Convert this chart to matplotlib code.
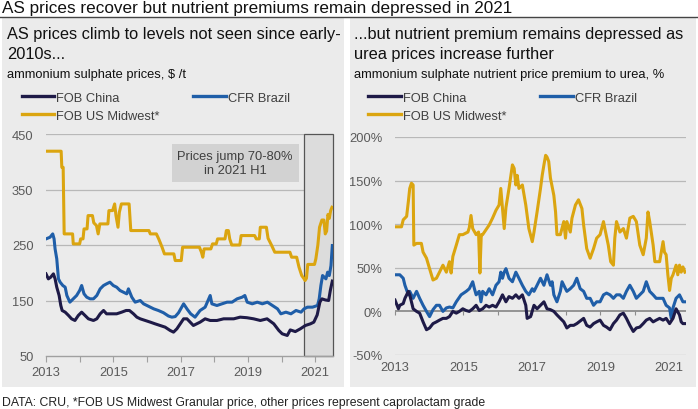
import matplotlib
matplotlib.use("Agg")
import matplotlib.pyplot as plt
from matplotlib.patches import Rectangle
from matplotlib.lines import Line2D
from matplotlib.ticker import FixedLocator, FuncFormatter

plt.rcParams['font.family'] = ['Liberation Sans', 'DejaVu Sans']

# ---------------- DATA ----------------
# Left: ammonium sulphate prices, $/t
us_price_t = [2013.00, 2013.45, 2013.47, 2013.51, 2013.54, 2013.79, 2013.81, 2014.00, 2014.03, 2014.10,
              2014.13, 2014.22, 2014.25, 2014.38, 2014.42, 2014.50, 2014.55, 2014.60, 2014.84, 2014.87,
              2014.98, 2015.04, 2015.08, 2015.14, 2015.18, 2015.24, 2015.47, 2015.52, 2016.06, 2016.10,
              2016.28, 2016.35, 2016.45, 2016.52, 2016.80, 2016.84, 2017.02, 2017.06, 2017.56, 2017.62,
              2017.66, 2017.70, 2017.90, 2017.95, 2018.06, 2018.10, 2018.32, 2018.36, 2018.42, 2018.46,
              2018.52, 2018.76, 2018.80, 2019.20, 2019.25, 2019.34, 2019.37, 2019.55, 2019.60, 2019.70,
              2019.80, 2020.25, 2020.30, 2020.45, 2020.52, 2020.60, 2020.66, 2020.70, 2020.74, 2020.78,
              2020.98, 2021.02, 2021.08, 2021.13, 2021.20, 2021.26, 2021.30, 2021.34, 2021.38, 2021.42,
              2021.46, 2021.50]
us_price_v = [419, 419, 390, 390, 270, 270, 252, 252, 261, 261,
              279, 279, 303, 303, 290, 285, 270, 288, 288, 312,
              312, 324, 303, 282, 309, 324, 324, 276, 276, 270,
              270, 261, 246, 234, 234, 222, 222, 246, 246, 237,
              228, 243, 243, 252, 252, 261, 261, 276, 276, 261,
              250, 250, 267, 267, 261, 261, 282, 282, 262, 250,
              237, 237, 228, 228, 210, 195, 190, 186, 190, 215,
              215, 225, 250, 282, 295, 295, 270, 275, 305, 298,
              312, 318]

br_price_t = [2013.00, 2013.12, 2013.20, 2013.24, 2013.27, 2013.32, 2013.37, 2013.42, 2013.50, 2013.57,
              2013.62, 2013.71, 2013.81, 2013.91, 2014.00, 2014.06, 2014.13, 2014.21, 2014.31, 2014.41,
              2014.51, 2014.61, 2014.71, 2014.80, 2014.90, 2015.00, 2015.10, 2015.20, 2015.30, 2015.40,
              2015.45, 2015.55, 2015.65, 2015.80, 2015.90, 2016.00, 2016.10, 2016.20, 2016.34, 2016.49,
              2016.64, 2016.74, 2016.84, 2016.94, 2017.09, 2017.20, 2017.30, 2017.43, 2017.58, 2017.73,
              2017.88, 2017.93, 2018.08, 2018.23, 2018.38, 2018.53, 2018.68, 2018.83, 2018.91, 2018.98,
              2019.13, 2019.28, 2019.43, 2019.58, 2019.73, 2019.88, 2019.98, 2020.13, 2020.28, 2020.43,
              2020.58, 2020.67, 2020.77, 2020.92, 2021.07, 2021.12, 2021.17, 2021.22, 2021.32, 2021.37,
              2021.42, 2021.47, 2021.51]
br_price_v = [261, 264, 270, 261, 243, 225, 189, 183, 177, 174,
              159, 147, 153, 159, 168, 177, 162, 156, 153, 153,
              159, 171, 177, 180, 183, 177, 174, 168, 165, 162,
              171, 156, 147, 150, 144, 141, 138, 135, 132, 128,
              122, 120, 121, 128, 144, 134, 126, 120, 132, 138,
              159, 144, 141, 144, 147, 147, 153, 156, 159, 147,
              144, 147, 144, 147, 141, 135, 126, 129, 126, 132,
              129, 135, 138, 138, 141, 153, 177, 195, 189, 201,
              195, 213, 249]

cn_price_t = [2013.00, 2013.07, 2013.14, 2013.22, 2013.27, 2013.32, 2013.39, 2013.44, 2013.48, 2013.57,
              2013.67, 2013.76, 2013.86, 2013.96, 2014.06, 2014.16, 2014.26, 2014.41, 2014.51, 2014.61,
              2014.71, 2014.80, 2014.95, 2015.10, 2015.25, 2015.38, 2015.48, 2015.60, 2015.70, 2015.80,
              2015.95, 2016.10, 2016.24, 2016.39, 2016.54, 2016.69, 2016.79, 2016.89, 2016.99, 2017.09,
              2017.19, 2017.38, 2017.58, 2017.73, 2017.88, 2018.08, 2018.28, 2018.58, 2018.77, 2018.97,
              2019.17, 2019.37, 2019.57, 2019.77, 2019.92, 2020.02, 2020.17, 2020.26, 2020.41, 2020.56,
              2020.71, 2020.86, 2020.96, 2021.06, 2021.14, 2021.20, 2021.30, 2021.40, 2021.45, 2021.51]
cn_price_v = [198, 189, 192, 198, 189, 174, 159, 141, 132, 129,
              123, 117, 114, 123, 129, 123, 117, 114, 117, 126,
              132, 126, 126, 126, 129, 132, 132, 126, 120, 117,
              114, 111, 108, 105, 102, 96, 93, 99, 108, 117,
              117, 105, 111, 117, 114, 114, 117, 117, 120, 119,
              117, 114, 117, 108, 96, 90, 87, 97, 94, 99,
              105, 108, 111, 124, 147, 153, 151, 150, 168, 185]

# Right: nutrient price premium to urea, %
us_prem_t = [2013.00, 2013.19, 2013.24, 2013.34, 2013.39, 2013.43, 2013.48, 2013.53, 2013.55, 2013.63,
             2013.77, 2013.82, 2013.92, 2014.01, 2014.11, 2014.21, 2014.30, 2014.40, 2014.50, 2014.59,
             2014.64, 2014.69, 2014.79, 2014.88, 2014.98, 2015.13, 2015.17, 2015.22, 2015.27, 2015.37,
             2015.44, 2015.48, 2015.52, 2015.56, 2015.75, 2015.85, 2015.95, 2016.04, 2016.09, 2016.14,
             2016.19, 2016.24, 2016.33, 2016.43, 2016.48, 2016.53, 2016.57, 2016.62, 2016.72, 2016.82,
             2016.91, 2017.01, 2017.06, 2017.15, 2017.25, 2017.30, 2017.35, 2017.40, 2017.44, 2017.49,
             2017.54, 2017.64, 2017.69, 2017.73, 2017.83, 2017.93, 2017.98, 2018.02, 2018.12, 2018.17,
             2018.27, 2018.36, 2018.46, 2018.51, 2018.60, 2018.70, 2018.80, 2018.89, 2018.99, 2019.09,
             2019.13, 2019.23, 2019.30, 2019.38, 2019.42, 2019.47, 2019.57, 2019.67, 2019.76, 2019.86,
             2019.96, 2020.05, 2020.15, 2020.25, 2020.34, 2020.39, 2020.44, 2020.54, 2020.59, 2020.73,
             2020.83, 2020.87, 2020.92, 2020.97, 2021.02, 2021.07, 2021.12, 2021.21, 2021.26, 2021.31,
             2021.36, 2021.41, 2021.47]
us_prem_v = [97, 97, 105, 109, 126, 141, 147, 145, 76, 78,
             78, 68, 61, 49, 36, 38, 45, 53, 45, 57,
             44, 63, 76, 88, 88, 91, 96, 110, 95, 88,
             91, 44, 88, 88, 99, 107, 116, 122, 141, 118,
             95, 119, 141, 168, 164, 145, 156, 141, 145, 122,
             95, 80, 91, 114, 141, 156, 168, 179, 177, 172,
             153, 133, 114, 88, 88, 103, 84, 103, 91, 107,
             122, 128, 118, 99, 72, 61, 72, 84, 88, 103,
             95, 76, 57, 53, 84, 103, 91, 95, 84, 107,
             109, 103, 76, 65, 84, 114, 103, 76, 57, 57,
             80, 68, 65, 42, 24, 38, 42, 53, 42, 53,
             45, 51, 45]

br_prem_t = [2013.00, 2013.14, 2013.24, 2013.29, 2013.39, 2013.43, 2013.53, 2013.58, 2013.63, 2013.72,
             2013.82, 2013.92, 2014.01, 2014.11, 2014.21, 2014.30, 2014.40, 2014.50, 2014.59, 2014.69,
             2014.79, 2014.93, 2015.08, 2015.17, 2015.27, 2015.32, 2015.37, 2015.46, 2015.51, 2015.56,
             2015.66, 2015.75, 2015.85, 2015.95, 2016.04, 2016.09, 2016.14, 2016.19, 2016.24, 2016.33,
             2016.43, 2016.53, 2016.62, 2016.72, 2016.82, 2016.91, 2017.01, 2017.06, 2017.15, 2017.25,
             2017.35, 2017.44, 2017.54, 2017.59, 2017.64, 2017.73, 2017.83, 2017.88, 2017.98, 2018.02,
             2018.12, 2018.22, 2018.31, 2018.41, 2018.51, 2018.60, 2018.70, 2018.80, 2018.89, 2018.99,
             2019.09, 2019.18, 2019.28, 2019.38, 2019.47, 2019.57, 2019.67, 2019.76, 2019.86, 2019.96,
             2020.05, 2020.15, 2020.25, 2020.34, 2020.44, 2020.54, 2020.63, 2020.73, 2020.83, 2020.92,
             2021.02, 2021.07, 2021.12, 2021.21, 2021.31, 2021.41, 2021.47]
br_prem_v = [42, 42, 38, 30, 19, 23, 15, 19, 23, 15,
             7, 0, -6, 2, 7, 7, 0, 4, 5, 4,
             11, 19, 23, 26, 34, 26, 19, 23, 11, 23,
             19, 26, 19, 30, 34, 45, 38, 45, 49, 38,
             34, 45, 38, 30, 23, 19, 26, 23, 30, 38,
             30, 42, 30, 34, 19, 11, 23, 34, 26, 23,
             26, 30, 38, 26, 23, 15, 15, 7, 11, 11,
             19, 21, 19, 15, 19, 19, 15, 23, 30, 23,
             15, 19, 23, 34, 23, 19, 15, 15, 15, 7,
             4, -8, 4, 15, 19, 11, 11]

cn_prem_t = [2013.00, 2013.10, 2013.14, 2013.24, 2013.29, 2013.39, 2013.43, 2013.48, 2013.53, 2013.63,
             2013.72, 2013.82, 2013.92, 2014.01, 2014.11, 2014.21, 2014.30, 2014.40, 2014.50, 2014.59,
             2014.69, 2014.79, 2014.88, 2014.98, 2015.08, 2015.17, 2015.27, 2015.37, 2015.46, 2015.56,
             2015.66, 2015.75, 2015.85, 2015.95, 2016.04, 2016.14, 2016.24, 2016.33, 2016.43, 2016.53,
             2016.62, 2016.72, 2016.82, 2016.86, 2016.96, 2017.06, 2017.15, 2017.25, 2017.35, 2017.44,
             2017.54, 2017.64, 2017.73, 2017.83, 2017.93, 2018.02, 2018.12, 2018.22, 2018.31, 2018.51,
             2018.60, 2018.70, 2018.80, 2018.89, 2018.99, 2019.09, 2019.18, 2019.28, 2019.38, 2019.47,
             2019.57, 2019.67, 2019.76, 2019.86, 2019.96, 2020.05, 2020.15, 2020.25, 2020.34, 2020.44,
             2020.54, 2020.63, 2020.73, 2020.83, 2020.92, 2021.02, 2021.12, 2021.21, 2021.31, 2021.36,
             2021.41, 2021.47]
cn_prem_v = [13, 3, 7, 9, 15, 23, 19, 11, 3, 0,
             -2, -12, -21, -19, -14, -12, -10, -8, -8, -6,
             0, -2, 0, 3, 1, 0, 3, 7, 1, 3,
             7, 5, 7, 5, 11, 19, 11, 17, 15, 19,
             15, 19, 7, -8, -6, 7, 3, 7, 11, 3,
             2, 0, -4, -8, -12, -19, -16, -16, -14, -8,
             -16, -18, -14, -12, -10, -16, -18, -21, -14, -10,
             -4, -2, -8, -16, -23, -19, -18, -14, -10, -8,
             -12, -10, -8, -10, -8, -14, -8, 3, -4, -12,
             -14, -14]

year_ticks = list(range(2013, 2022))
left_yticks = [50, 150, 250, 350, 450]
right_yticks = [-50, 0, 50, 100, 150, 200]
highlight_start, highlight_end = 2020.67, 2021.53

# ---------------- STYLE ----------------
C_CN = '#1e1a47'
C_BR = '#1f5ea8'
C_US = '#dba510'
PANEL = '#ebebeb'
GRID = '#b8b8b8'
TXT = '#3f3f3f'
TICK = '#5a5a5a'
LW = 2.2
FS_HEAD = 11.8
FS_SMALL = 9.3

W, H = 698, 410
fig = plt.figure(figsize=(W / 100, H / 100), dpi=100)
fig.patch.set_facecolor('white')

def fx(px):
    return px / W

def fy(py):
    return 1 - py / H

# panel backgrounds
for x0, x1 in [(2, 344), (350, 696)]:
    fig.patches.append(Rectangle((fx(x0), fy(388)), fx(x1) - fx(x0), fy(19) - fy(388),
                                 transform=fig.transFigure, facecolor=PANEL, edgecolor='none', zorder=-5))

# title and rule
fig.text(fx(2), fy(8), 'AS prices recover but nutrient premiums remain depressed in 2021',
         fontsize=12.3, color='#111111', va='center', ha='left')
fig.add_artist(Line2D([0, 1], [fy(17.5), fy(17.5)], transform=fig.transFigure, color='#444444', lw=1.0))

# subtitles
fig.text(fx(7), fy(44.5), 'AS prices climb to levels not seen since early-\n2010s...',
         fontsize=FS_HEAD, color='#111111', va='center', ha='left', linespacing=1.42)
fig.text(fx(354), fy(44.5), '...but nutrient premium remains depressed as\nurea prices increase further',
         fontsize=FS_HEAD, color='#111111', va='center', ha='left', linespacing=1.42)
fig.text(fx(7), fy(75), 'ammonium sulphate prices, $ /t', fontsize=FS_SMALL, color='#111111', va='center')
fig.text(fx(354), fy(75), 'ammonium sulphate nutrient price premium to urea, %', fontsize=FS_SMALL,
         color='#111111', va='center')
fig.text(fx(2), fy(403), 'DATA: CRU, *FOB US Midwest Granular price, other prices represent caprolactam grade',
         fontsize=8.85, color='#222222', va='center')

# ---------------- AXES ----------------
axL = fig.add_axes([fx(46), fy(357), fx(333) - fx(46), fy(135) - fy(357)])
axR = fig.add_axes([fx(395), fy(356), fx(686) - fx(395), fy(138) - fy(356)])

for ax in (axL, axR):
    ax.set_facecolor('none')
    for s in ax.spines.values():
        s.set_visible(False)
    ax.tick_params(axis='y', length=0, labelsize=FS_SMALL, labelcolor=TICK, pad=9)

axL.set_xlim(2013, 2021.53)
axL.set_ylim(50, 450)
axL.set_yticks(left_yticks)
for v in left_yticks[1:]:
    axL.axhline(v, color=GRID, lw=0.9, zorder=1)
axL.spines['bottom'].set_visible(True)
axL.spines['bottom'].set_color('#a0a0a0')
axL.spines['bottom'].set_linewidth(1.0)
axL.xaxis.set_major_locator(FixedLocator(year_ticks))
axL.xaxis.set_major_formatter(FuncFormatter(lambda v, p: str(int(round(v))) if int(round(v)) % 2 == 1 else ''))
axL.tick_params(axis='x', length=4, color='#a0a0a0', labelsize=FS_SMALL, labelcolor=TICK, pad=3)

# highlight region
axL.add_patch(Rectangle((highlight_start, 50), highlight_end - highlight_start, 400,
                        facecolor='#dcdcdc', edgecolor='#555555', lw=0.9, zorder=1.5, clip_on=False))
axL.text(2018.62, 398, 'Prices jump 70-80%\nin 2021 H1', ha='center', va='center', fontsize=FS_SMALL,
         color=TXT, linespacing=1.2, zorder=2,
         bbox=dict(boxstyle='square,pad=0.45', facecolor='#d2d2d2', edgecolor='none'))

axL.plot(us_price_t, us_price_v, color=C_US, lw=LW, zorder=3, solid_joinstyle='round')
axL.plot(br_price_t, br_price_v, color=C_BR, lw=LW, zorder=4, solid_joinstyle='round')
axL.plot(cn_price_t, cn_price_v, color=C_CN, lw=LW, zorder=5, solid_joinstyle='round')

axR.set_xlim(2013, 2021.5)
axR.set_ylim(-50, 200)
axR.set_yticks(right_yticks)
axR.yaxis.set_major_formatter(FuncFormatter(lambda v, p: f'{int(v)}%'))
for v in right_yticks:
    if v != 0:
        axR.axhline(v, color=GRID, lw=0.9, zorder=1)
axR.axhline(0, color='#8c8c8c', lw=1.3, zorder=1)
axR.xaxis.set_major_locator(FixedLocator(year_ticks))
axR.xaxis.set_major_formatter(FuncFormatter(lambda v, p: str(int(round(v))) if int(round(v)) % 2 == 1 else ''))
axR.tick_params(axis='x', length=0, labelsize=FS_SMALL, labelcolor=TICK, pad=4)
zero_frac = (0 - (-50)) / (200 - (-50))
sec = axR.secondary_xaxis(zero_frac)
sec.xaxis.set_major_locator(FixedLocator(year_ticks))
sec.tick_params(axis='x', length=3, color='#8c8c8c', labelbottom=False, labeltop=False, direction='out')
for s in sec.spines.values():
    s.set_visible(False)

axR.plot(us_prem_t, us_prem_v, color=C_US, lw=LW, zorder=3, solid_joinstyle='round')
axR.plot(br_prem_t, br_prem_v, color=C_BR, lw=LW, zorder=4, solid_joinstyle='round')
axR.plot(cn_prem_t, cn_prem_v, color=C_CN, lw=LW, zorder=5, solid_joinstyle='round')

# ---------------- LEGENDS ----------------
for x_px in (21.5, 368):
    hs = [Line2D([], [], color=C_CN, lw=2.4), Line2D([], [], color=C_US, lw=2.4),
          Line2D([], [], color=C_BR, lw=2.4)]
    labels = ['FOB China', 'FOB US Midwest*', 'CFR Brazil']
    fig.legend(hs, labels, loc='upper left', bbox_to_anchor=(fx(x_px), fy(92.5)),
               bbox_transform=fig.transFigure, ncol=2, frameon=False, borderpad=0,
               handlelength=2.55, handletextpad=0.15, columnspacing=2.6, labelspacing=0.48,
               fontsize=FS_SMALL, labelcolor=TXT, borderaxespad=0)

fig.savefig('out.png', dpi=100, facecolor='white')
